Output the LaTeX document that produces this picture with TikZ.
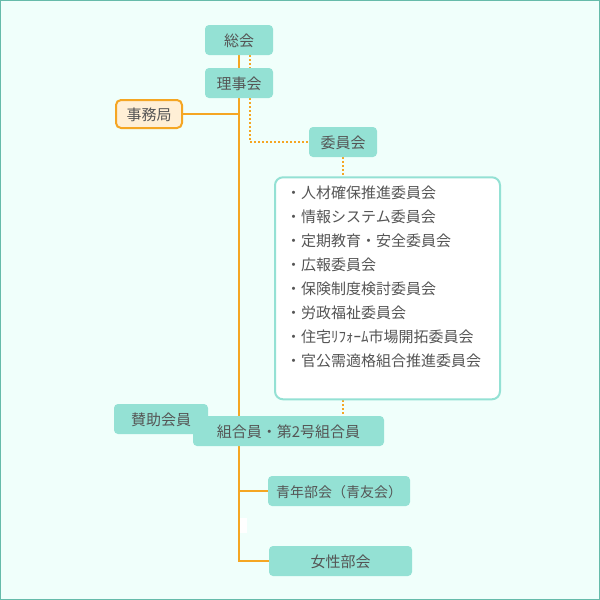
\documentclass[tikz,border=0pt]{standalone}
\usepackage{fontspec}
\setmainfont{Noto Sans CJK JP}
\usetikzlibrary{backgrounds}
\definecolor{bgc}{HTML}{F0FFFB}
\definecolor{framec}{HTML}{66BBAA}
\definecolor{boxc}{HTML}{94E1D4}
\definecolor{orc}{HTML}{F5A623}
\definecolor{orfill}{HTML}{FFEFD6}
\definecolor{txt}{HTML}{555555}
\begin{document}
\begin{tikzpicture}[x=1pt,y=-1pt,
  every node/.style={font=\fontsize{15}{17}\selectfont, text=txt, text height=1.24em, text depth=0em, inner sep=0pt},
  tbox/.style={fill=boxc, rounded corners=4pt, minimum height=30pt},
  sline/.style={draw=orc, line width=2pt},
  dline/.style={draw=orc, line width=2pt, dash pattern=on 2pt off 2pt},
]
\useasboundingbox (0,0) rectangle (600,600);
\node[tbox, minimum width=68pt] (sokai) at (239,40) {総会};
\node[tbox, minimum width=68pt] (riji) at (239,83) {理事会};
\node[fill=orfill, draw=orc, line width=2pt, rounded corners=5pt, minimum width=66pt, minimum height=28pt] (jimu) at (149,114) {事務局};
\node[tbox, minimum width=68pt] (iin) at (343,142) {委員会};
\node[draw=boxc, line width=2pt, fill=white, rounded corners=8pt, minimum width=225pt, minimum height=222pt] (list) at (387.5,288.3) {};
\foreach \t [count=\i] in {人材確保推進委員会,情報システム委員会,定期教育・安全委員会,広報委員会,保険制度検討委員会,労政福祉委員会,住宅ﾘﾌｫｰﾑ市場開拓委員会,官公需適格組合推進委員会}
  \node[anchor=west] (l\i) at (286,{192.5+23.9*(\i-1)}) {・\t};
\node[tbox, minimum width=94pt] (sanjo) at (161,419) {賛助会員};
\node[tbox, minimum width=191pt] (kumiai) at (288.5,431) {組合員・第2号組合員};
\node[tbox, minimum width=142pt, font=\fontsize{14}{17}\selectfont] (seinen) at (339,491) {青年部会（青友会）};
\node[tbox, minimum width=143pt] (josei) at (340.5,561) {女性部会};
\begin{pgfonlayer}{background}
\fill[bgc] (0,0) rectangle (600,600);
\draw[sline] (sokai.south) -- (sokai.south |- josei.west) -- (josei.west);
\draw[sline] (jimu.east) -- (jimu.east -| sokai.south);
\draw[sline] (seinen.west) -- (seinen.west -| sokai.south);
\draw[dline] ([xshift=11pt]sokai.south) -- ([xshift=11pt]riji.north);
\draw[dline] ([xshift=11pt]riji.south) |- (iin.west);
\draw[dline] (iin.south) -- (iin.south |- list.north);
\draw[dline] (iin.south |- list.south) -- (iin.south |- kumiai.north);
\end{pgfonlayer}
\fill[white] (240,518) rectangle (247,533);
\draw[framec, line width=2pt] (0,0) rectangle (600,600);
\end{tikzpicture}
\end{document}
